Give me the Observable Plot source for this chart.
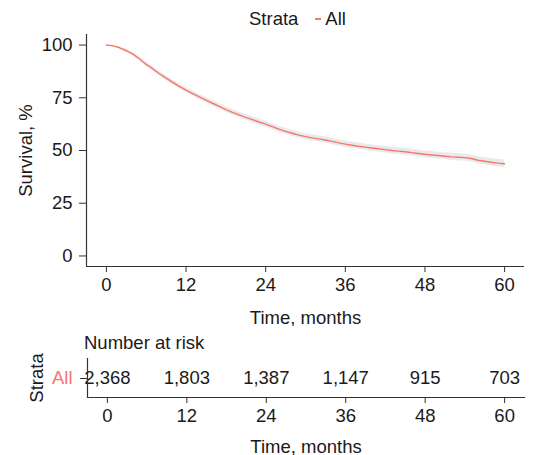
<!DOCTYPE html>
<html>
<head>
<meta charset="utf-8">
<script src="https://cdn.jsdelivr.net/npm/d3@7"></script>
<script src="https://cdn.jsdelivr.net/npm/@observablehq/plot@0.6"></script>
<style>
  body { margin: 0; background: #fff; font-family: "Liberation Sans", Arial, sans-serif; }
  #wrap { position: relative; width: 539px; height: 455px; overflow: hidden; background: #fff; }
  .abs { position: absolute; }
  .txt { z-index: 5; line-height: 1; }
  .legend { top: 10px; left: 249px; font-size: 18.5px; color: #1a1a1a; white-space: nowrap; }
  .sw { display: inline-block; width: 6px; height: 2px; background: #F8766D; vertical-align: middle; margin: 0 4px 0 17px; position: relative; top: -1px; }
  .risktitle { top: 334px; left: 84px; font-size: 18.5px; color: #1a1a1a; }
  svg text { font-size: 18.5px; }
</style>
</head>
<body>
<div id="wrap">
  <div class="abs" id="main" style="top:0;left:0"></div>
  <div class="abs" id="risk" style="top:340px;left:0"></div>
  <div class="abs txt legend">Strata<span class="sw"></span>All</div>
  <div class="abs txt risktitle">Number at risk</div>
</div>
<script>
// ---- data ----
const months = [0,1,2,3,4,5,6,7,8,9,10,11,12,13,14,15,16,17,18,19,20,21,22,23,24,25,26,27,28,29,30,31,32,33,34,35,36,37,38,39,40,41,42,43,44,45,46,47,48,49,50,51,52,53,54,55,56,57,58,59,60];
const survival = [100,99.6,98.7,97.3,95.7,93.4,90.8,88.7,86.4,84.3,82.3,80.4,78.6,77.0,75.4,73.9,72.4,70.9,69.4,68.1,66.9,65.7,64.6,63.5,62.5,61.3,60.1,59.1,58.2,57.3,56.6,56.0,55.5,55.0,54.3,53.6,53.0,52.5,52.0,51.6,51.2,50.8,50.4,50.0,49.7,49.4,49.0,48.6,48.2,47.9,47.6,47.3,47.0,46.8,46.6,46.2,45.4,44.9,44.4,44.0,43.7];
const ciHalf = [0,0.3,0.5,0.7,0.8,0.9,1.0,1.0,1.1,1.1,1.1,1.2,1.2,1.2,1.2,1.3,1.3,1.3,1.3,1.3,1.3,1.4,1.4,1.4,1.4,1.4,1.4,1.4,1.4,1.5,1.5,1.5,1.5,1.5,1.5,1.5,1.5,1.5,1.5,1.5,1.5,1.5,1.6,1.6,1.6,1.6,1.6,1.6,1.6,1.6,1.6,1.6,1.7,1.7,1.7,1.7,1.7,1.7,1.8,1.8,1.8];
const xTicks = [0,12,24,36,48,60];
const yTicks = [0,25,50,75,100];
const riskTimes = [0,12,24,36,48,60];
const riskCounts = ["2,368","1,803","1,387","1,147","915","703"];
const strata = ["All"];
const xDomain = [-3, 63];
const yDomain = [-5, 105];

const curve = months.map((t, i) => ({t, s: survival[i], lo: survival[i] - ciHalf[i], hi: survival[i] + ciHalf[i]}));
const risk = riskTimes.map((t, i) => ({t, n: riskCounts[i], strata: strata[0]}));

const red = "#F8766D";
const ink = "#1a1a1a";
const axisCol = "#333333";
const font = "Liberation Sans, Arial, sans-serif";
const fs = 18.5;

const main = Plot.plot({
  width: 539,
  height: 326,
  marginTop: 34,
  marginLeft: 86,
  marginRight: 15,
  marginBottom: 60,
  style: {fontFamily: font, fontSize: fs + "px", color: ink, background: "transparent"},
  x: {domain: xDomain},
  y: {domain: yDomain},
  marks: [
    Plot.areaY(curve, {x: "t", y1: "lo", y2: "hi", fill: "#d8d8d8", fillOpacity: 0.55}),
    Plot.lineY(curve, {x: "t", y: "s", stroke: red, strokeWidth: 1.4}),
    Plot.ruleX([xDomain[0]], {stroke: axisCol, strokeWidth: 1.2}),
    Plot.ruleY([yDomain[0]], {stroke: axisCol, strokeWidth: 1.2}),
    Plot.axisX({ticks: xTicks, tickSize: 6, tickPadding: 5, stroke: axisCol, fill: ink, label: "Time, months", labelAnchor: "center", labelArrow: "none", fontSize: fs}),
    Plot.axisY({ticks: yTicks, tickSize: 7, tickPadding: 7, stroke: axisCol, fill: ink, label: "Survival, %", labelAnchor: "center", labelArrow: "none", labelOffset: 68, fontSize: fs})
  ]
});
document.getElementById("main").appendChild(main);

const riskPlot = Plot.plot({
  width: 539,
  height: 115,
  marginTop: 18,
  marginLeft: 87,
  marginRight: 15,
  marginBottom: 58,
  style: {fontFamily: font, fontSize: fs + "px", color: ink, background: "transparent"},
  x: {domain: xDomain},
  y: {domain: strata, type: "point"},
  marks: [
    Plot.text(risk, {x: "t", y: "strata", text: "n", fill: ink, fontSize: fs}),
    Plot.ruleX([xDomain[0]], {stroke: axisCol, strokeWidth: 1.2}),
    Plot.frame({anchor: "bottom", stroke: axisCol, strokeWidth: 1.2}),
    Plot.axisX({ticks: xTicks, tickSize: 6, tickPadding: 5, stroke: axisCol, fill: ink, label: "Time, months", labelAnchor: "center", labelArrow: "none", fontSize: fs}),
    Plot.axisY({tickSize: 7, tickPadding: 8, stroke: axisCol, fill: red, label: null, fontSize: fs}),
    Plot.axisY({tickSize: 0, tickFormat: () => "", fill: ink, label: "Strata", labelAnchor: "center", labelArrow: "none", labelOffset: 58, fontSize: fs})
  ]
});
document.getElementById("risk").appendChild(riskPlot);
</script>
</body>
</html>
